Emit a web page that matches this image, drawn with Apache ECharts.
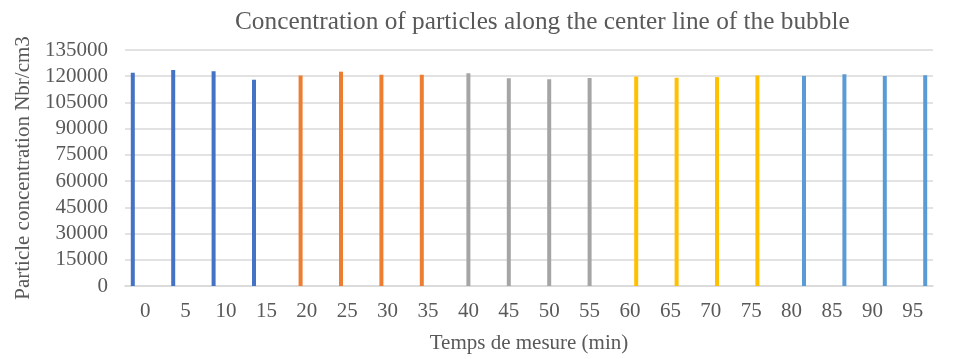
<!DOCTYPE html>
<html>
<head>
<meta charset="utf-8">
<script src="https://cdn.jsdelivr.net/npm/echarts@6/dist/echarts.min.js"></script>
<style>
  html, body { margin: 0; padding: 0; background: #fff; }
  #chart { width: 953px; height: 359px; }
</style>
</head>
<body>
<div id="chart"></div>
<script>
// Sampling times (min)
const categories = ['0','5','10','15','20','25','30','35','40','45','50','55','60','65','70','75','80','85','90','95'];

// Particle concentration (Nbr/cm3), one run of four measurements per series
const run1 = [122000, 123600, 122800, 118000];
const run2 = [120400, 122600, 120900, 120800];
const run3 = [121700, 118900, 118300, 119000];
const run4 = [119800, 119100, 119500, 120400];
const run5 = [120200, 121100, 120100, 120600];

const runs = [run1, run2, run3, run4, run5];
const colors = ['#4472C4', '#ED7D31', '#A5A5A5', '#FFC000', '#5B9BD5'];

// Each run occupies its own block of four categories; other slots stay empty
const series = runs.map((vals, i) => {
  const data = categories.map(() => null);
  vals.forEach((v, j) => { data[i * 4 + j] = v; });
  return {
    type: 'bar',
    data: data,
    barWidth: 4,
    barGap: '55%',
    itemStyle: { color: colors[i] },
    silent: true
  };
});

const font = 'Liberation Serif';
const textColor = '#595959';

const chart = echarts.init(document.getElementById('chart'), null, { renderer: 'canvas' });
chart.setOption({
  animation: false,
  backgroundColor: '#fff',
  title: {
    text: 'Concentration of particles along the center line of the bubble',
    left: 230,
    top: 5,
    textStyle: { fontFamily: font, fontSize: 25.3, fontWeight: 'normal', color: textColor }
  },
  grid: { left: 125, right: 20, top: 50, bottom: 69 },
  xAxis: {
    type: 'category',
    data: categories,
    name: 'Temps de mesure (min)',
    nameLocation: 'middle',
    nameGap: 47,
    nameTextStyle: { fontFamily: font, fontSize: 21, color: textColor },
    axisLine: { lineStyle: { color: '#D9D9D9', width: 1.5 } },
    axisTick: { show: false },
    axisLabel: { fontFamily: font, fontSize: 21, color: textColor, margin: 15, interval: 0 }
  },
  yAxis: {
    type: 'value',
    min: 0,
    max: 135000,
    interval: 15000,
    name: 'Particle concentration Nbr/cm3',
    nameLocation: 'middle',
    nameGap: 80,
    nameTextStyle: { fontFamily: font, fontSize: 21, color: textColor },
    axisLine: { show: false },
    axisTick: { show: false },
    axisLabel: { fontFamily: font, fontSize: 21, color: textColor, margin: 17, formatter: (v) => String(v) },
    splitLine: { lineStyle: { color: '#D9D9D9', width: 1.5 } }
  },
  series: series
});
</script>
</body>
</html>
